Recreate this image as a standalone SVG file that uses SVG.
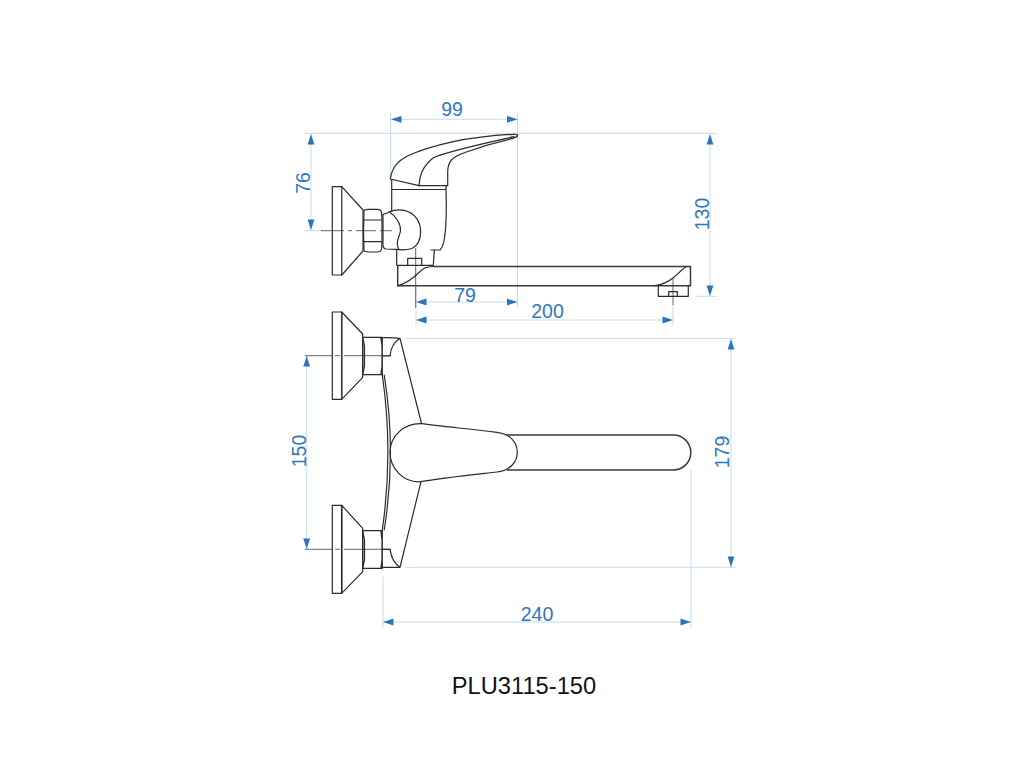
<svg xmlns="http://www.w3.org/2000/svg" width="1024" height="768" viewBox="0 0 1024 768">
<style>
.o{fill:none;stroke:#2a2a2a;stroke-width:1.2;stroke-linejoin:round;stroke-linecap:round}
.t{fill:none;stroke:#3a3a3a;stroke-width:1.5}
.c{fill:none;stroke:#666;stroke-width:1}
.e{fill:none;stroke:#c3dcf0;stroke-width:1}
.a{fill:#2a75bb;stroke:none}
.d{font-family:"Liberation Sans",Arial,sans-serif;font-size:19.5px;fill:#2f77bc;text-anchor:middle}
.n{font-family:"Liberation Sans",Arial,sans-serif;font-size:23.7px;fill:#111;text-anchor:middle}
</style>
<defs>
<polygon id="ar" class="a" points="0,0 -10.5,-3.4 -10.5,3.4"/>
</defs>
<rect width="1024" height="768" fill="#fff"/>
<g id="dimension-lines">
<path class="e" d="M304 133.3H717M390.5 113V178M517.5 113V308M304 230.7H321M416 287V326M673 305V326M697 296.3H717"/>
<path class="e" d="M391 119.3H517M311 134V230M710 134V296M416 302H517M416 320H673"/>
<path class="e" d="M405 338.3H736M405 567.3H736M731 339V567M306.7 356V549M383 577V628M691 470V628M383 622H691"/>
</g>
<g id="side-view">
<path class="c" d="M321 230.7H344M348 230.7H352M356 230.7H376M380 230.7H392"/>
<path class="c" d="M415.7 248V308M673 278V305"/>
<rect class="o" x="332.3" y="186.7" width="9.5" height="88.3"/>
<path class="o" d="M341.8 186.7L363 210V251L341.8 275"/>
<path class="o" d="M364 210.5Q366 209.3 369 209.3H377Q381 209.3 381.5 212L382 220V242L381.5 249Q381 252 377 252H369Q366 252 364 251Q363 231 364 210.5ZM364 220H382M364 241.7H382"/>
<path class="o" d="M390.3 179C392 166 400 159.500 408 155.700C420 150 440 144.500 452 141.800C475 137.300 495 135.200 513 134.300Q517.500 134 517.700 135Q517 137.200 513 138.400C497 142 475 148.800 465 152.500C459 154.500 454.500 156.500 451.500 160C448.500 163.500 447.700 167 447.700 172V185.700H419L390.300 179Z"/>
<path class="o" d="M419 185.700C419.500 176 422 167 433 158C445 152 475 145.700 514 136.700"/>
<path class="o" d="M391.700 180V211.500M446 186V189.300M391.700 189.500H446M446 189.300C446.500 205 446.500 225 444.500 238Q443.500 246 440 250L431 250"/>
<path class="o" d="M383 214.300Q386 214 390 211.500C395 209.500 403 209 409 212C417 216 420.500 223 420.700 232C420.500 240 417 246 412 248.500C407 250 401 250 396 249.300L386 249Q383 248.500 383 245V214.300Z"/>
<path class="o" d="M390 212.500C396 216 401 224 400.500 231C399.500 236 397 240 397.300 244Q397.500 247 399 249.500"/>
<path class="o" d="M396.700 250V265.300H433.300L434.300 250M407.700 258.300H421.700V265.300H407.700Z"/>
<path class="t" d="M434 266.500H690.500V285.700H397.700V265.700"/>
<path class="o" d="M397.700 285.700C404 284 409 281 414 277C418 273.500 422 269 426 267.500Q430 266.500 434 266.500M686 266.700C681 270 677 275 673 278C668 282 663 284.500 655 285.700"/>
<path class="o" d="M658.300 285.700V296.300H688.300V285.700M668.700 296.300V291.700H677.300V296.300"/>
</g>
<g id="front-view">
<path class="c" d="M305 355.700H332M305 549.300H332M344 355.700H391M344 549.300H391M335 355.700H340M335 549.300H340"/>
<rect class="o" x="332.300" y="312" width="9.400" height="87.300"/>
<path class="t" d="M341.700 312V399.300M341.700 505.300V593.300"/>
<path class="o" d="M341.700 312L362.700 334V377.300L341.700 399.300"/>
<path class="o" d="M362.700 337.300H382.300V374.700H362.700ZM362.700 337.300L364.500 346V366L362.700 374.700M380.800 337.300L382 346V366L380.800 374.700"/>
<path class="o" d="M382 337.700C388 337.500 395 337.800 400 338.300L421.500 423.500M400 338.300Q391 344 390 356H382"/>
<rect class="o" x="332.300" y="505.300" width="9.400" height="88"/>
<path class="o" d="M341.700 505.300L362.700 528.300V571.700L341.700 593.300"/>
<path class="o" d="M362.700 530.700H382.300V568.300H362.700ZM362.700 530.700L364.500 540V560L362.700 568.300M380.800 530.700L382 540V560L380.800 568.300"/>
<path class="o" d="M382 567.300L400 567.300L421 481.700M400 567.300Q392 562 390 549.300H382"/>
<path class="o" d="M382.300 375Q393.500 452 382.300 530M384.200 375Q396.700 452 384.200 530"/>
<path class="o" d="M421.700 423.700C438 426 470 429 497 432.300C510 434 517.300 442 517.300 452.300C517.300 462 510 470.500 497 472C470 475 440 478 421 481.700C403 483 390 468 390 452.300C390 436 404 423 421.700 423.700Z"/>
<path class="t" d="M506.700 435H673.300A17.500 17.500 0 0 1 673.300 470H506.700"/>
</g>
<g id="arrowheads">
<use href="#ar" transform="translate(391,119.300) rotate(180)"/>
<use href="#ar" transform="translate(517.500,119.300)"/>
<use href="#ar" transform="translate(311,134) rotate(-90)"/>
<use href="#ar" transform="translate(311,230) rotate(90)"/>
<use href="#ar" transform="translate(710,134) rotate(-90)"/>
<use href="#ar" transform="translate(710,296) rotate(90)"/>
<use href="#ar" transform="translate(416,302) rotate(180)"/>
<use href="#ar" transform="translate(517.500,302)"/>
<use href="#ar" transform="translate(416,320) rotate(180)"/>
<use href="#ar" transform="translate(673,320)"/>
<use href="#ar" transform="translate(306.700,356) rotate(-90)"/>
<use href="#ar" transform="translate(306.700,549) rotate(90)"/>
<use href="#ar" transform="translate(731,339) rotate(-90)"/>
<use href="#ar" transform="translate(731,567) rotate(90)"/>
<use href="#ar" transform="translate(383,622) rotate(180)"/>
<use href="#ar" transform="translate(691,622)"/>
</g>
<g id="labels">
<text class="d" x="452" y="116">99</text>
<text class="d" x="465" y="301.500">79</text>
<text class="d" x="547.500" y="317.500">200</text>
<text class="d" x="537" y="620.500">240</text>
<text class="d" transform="translate(309.500,183) rotate(-90)">76</text>
<text class="d" transform="translate(708.500,214) rotate(-90)">130</text>
<text class="d" transform="translate(305.500,451) rotate(-90)">150</text>
<text class="d" transform="translate(728.500,452) rotate(-90)">179</text>
<text class="n" x="524" y="693.500">PLU3115-150</text>
</g>
</svg>
